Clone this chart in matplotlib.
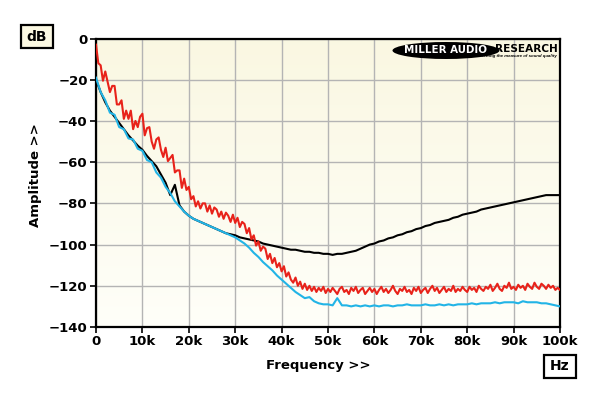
import numpy as np
import matplotlib
matplotlib.use("Agg")
import matplotlib.pyplot as plt
from matplotlib.patches import Ellipse, Rectangle

# frequency grids (kHz)
red_khz = np.arange(0, 100.5, 0.5)
cyan_khz = np.arange(0, 101, 1)
black_khz = np.arange(0, 101, 1)

# amplitude (dB)
red_db = [
    -3, -12, -13, -20.5, -16, -21, -26, -23, -23, -32,
    -32, -30, -39, -35, -39, -35, -44, -40, -43, -38,
    -36.5, -47, -43.5, -43, -50, -53.5, -49, -48, -54, -57.5,
    -53, -59.5, -58, -56.5, -65, -64, -64, -72.5, -68, -73.5,
    -72, -78, -76.5, -81.5, -79, -82.5, -80, -80, -84, -81,
    -85, -82, -83, -86.5, -84, -87.5, -84.5, -86, -89, -85.5,
    -89.5, -87, -91.5, -89, -90, -94.5, -92, -97.5, -95.5, -100.5,
    -98.5, -103, -101, -102, -107, -104.5, -109, -106.5, -111, -109,
    -113, -110.5, -115.5, -113.5, -117, -118.5, -116, -120, -118, -121.5,
    -119, -122, -120, -122.5, -120.5, -123, -121, -122.5, -120.5, -123.5,
    -121.5, -123, -121, -122.5, -124, -121.5, -120.5, -123, -122, -124,
    -121, -122.5, -120.5, -123.5, -122, -121, -124, -122.5, -121, -123,
    -121.5, -124, -122, -120.5, -123, -121.5, -123.5, -122, -120, -122.5,
    -124, -121.5, -122.5, -120.5, -123, -122, -124, -121, -122.5, -120.5,
    -123.5, -122, -121, -123.5, -121.5, -120, -122.5, -121, -123.5, -122,
    -120.5, -123, -121.5, -122.5, -120, -123, -121.5, -122.5, -120.5, -122,
    -123, -120.5, -122, -121, -123, -120, -121.5, -122.5, -120.5, -121.5,
    -119.5, -122.5, -121, -119, -121.5, -122.5, -120, -121, -118.5, -121.5,
    -120.5, -122, -119.5, -121, -120, -122, -119, -120.5, -121.5, -118.5,
    -120.5, -121.5, -119, -120, -121.5, -119.5, -121, -120, -122, -121,
    -122,
]

cyan_db = [
    -19, -26, -30, -36, -37, -43, -44, -48.5, -49, -53.5,
    -54.5, -59, -60, -65, -67.5, -72, -75, -79, -81.5, -84,
    -86, -87.5, -88.5, -89.5, -90.5, -91.5, -92.5, -93.5, -94.5, -95.5,
    -96.5, -98, -99.5, -101.5, -104, -106, -108.5, -110.5, -112.5, -115,
    -117, -119, -121, -123, -124.5, -126, -125.5, -127.5, -128.5, -129,
    -129, -129.5, -126, -129.5, -129.5, -130, -129.5, -130, -129.5, -130,
    -129.5, -130, -129.5, -129.5, -130, -129.5, -129.5, -129, -129.5, -129.5,
    -129.5, -129, -129.5, -129.5, -129, -129.5, -129, -129.5, -129, -129,
    -129, -128.5, -129, -128.5, -128.5, -128.5, -128, -128.5, -128, -128,
    -128, -128.5, -127.5, -128, -128, -128, -128.5, -128.5, -129, -129.5,
    -130,
]

black_db = [
    -20, -26, -31, -35, -38, -41, -44, -47, -49.5, -52,
    -54, -57, -59.5, -62, -66, -70, -76, -71, -81, -84,
    -86, -87.5, -88.5, -89.5, -90.5, -91.5, -92.5, -93.5, -94.5, -95,
    -95.5, -96.5, -97, -97.5, -98, -98.5, -99.5, -100, -100.5, -101,
    -101.5, -102, -102.5, -102.5, -103, -103.5, -103.5, -104, -104, -104.5,
    -104.5, -105, -104.5, -104.5, -104, -103.5, -103, -102, -101, -100,
    -99.5, -98.5, -98, -97, -96.5, -95.5, -95, -94, -93.5, -92.5,
    -92, -91, -90.5, -89.5, -89, -88.5, -88, -87, -86.5, -85.5,
    -85, -84.5, -84, -83, -82.5, -82, -81.5, -81, -80.5, -80,
    -79.5, -79, -78.5, -78, -77.5, -77, -76.5, -76, -76, -76,
    -76,
]

xticks = [0, 10, 20, 30, 40, 50, 60, 70, 80, 90, 100]
xlabels = ['0', '10k', '20k', '30k', '40k', '50k', '60k', '70k', '80k', '90k', '100k']
yticks = [0, -20, -40, -60, -80, -100, -120, -140]

plt.rcParams['font.family'] = 'DejaVu Sans'
plt.rcParams['font.weight'] = 'bold'

fig = plt.figure(figsize=(6, 3.96), dpi=100)
ax = fig.add_axes([96/600, 1-327/396, 464/600, 288.5/396])

# cream gradient background
grad = np.linspace(0, 1, 256).reshape(-1, 1)
top = np.array([0.980, 0.970, 0.885])
bot = np.array([0.998, 0.998, 0.975])
img = top + (bot - top) * grad[..., None]
ax.imshow(img, extent=[0, 1, 0, 1], transform=ax.transAxes, aspect='auto', zorder=0)

ax.plot(black_khz, black_db, color='black', lw=1.5, zorder=3)
ax.plot(cyan_khz, cyan_db, color='#22B4E6', lw=1.5, zorder=4)
ax.plot(red_khz, red_db, color='#E8221A', lw=1.5, zorder=5)

ax.set_xlim(0, 100)
ax.set_ylim(-140, 0)
ax.set_xticks(xticks)
ax.set_xticklabels(xlabels)
ax.set_yticks(yticks)
ax.grid(True, color='#B4B4B4', lw=1.0)
ax.set_axisbelow(True)
for s in ax.spines.values():
    s.set_linewidth(1.6)
    s.set_color('black')
ax.tick_params(direction='out', length=4, width=1.2, labelsize=9.5, pad=2)
for lab in ax.get_xticklabels() + ax.get_yticklabels():
    lab.set_fontweight('bold')

fig.text(35/600, 1-175/396, 'Amplitude >>', rotation=90, ha='center', va='center',
         fontsize=9.5, fontweight='bold')
fig.text(318/600, 1-366/396, 'Frequency >>', ha='center', va='center',
         fontsize=9.5, fontweight='bold')

# unit boxes
fig.patches.append(Rectangle((21/600, 1-48/396), 32/600, 23/396, transform=fig.transFigure,
                             facecolor='#FBF8E2', edgecolor='black', lw=1.6))
fig.text(37/600, 1-37/396, 'dB', ha='center', va='center', fontsize=10, fontweight='bold')
fig.patches.append(Rectangle((544/600, 1-378/396), 32/600, 23/396, transform=fig.transFigure,
                             facecolor='white', edgecolor='black', lw=1.6))
fig.text(560/600, 1-366.5/396, 'Hz', ha='center', va='center', fontsize=10, fontweight='bold')

# logo
fig.patches.append(Ellipse((446/600, 1-50.5/396), 107/600, 17/396, transform=fig.transFigure,
                           facecolor='black', edgecolor='none', zorder=10))
fig.text(445/600, 1-50/396, 'MILLER AUDIO', ha='center', va='center', fontsize=7.4,
         fontweight='heavy', color='white', zorder=11)
fig.text(526/600, 1-49.5/396, 'RESEARCH', ha='center', va='center', fontsize=7.6,
         fontweight='heavy', color='black', zorder=11)
fig.text(557/600, 1-56.5/396, 'Getting the measure of sound quality', ha='right', va='center',
         fontsize=3.2, fontweight='bold', style='italic', color='black', zorder=11,
         family='Liberation Sans')

fig.savefig('out.png', dpi=100, facecolor='white')
